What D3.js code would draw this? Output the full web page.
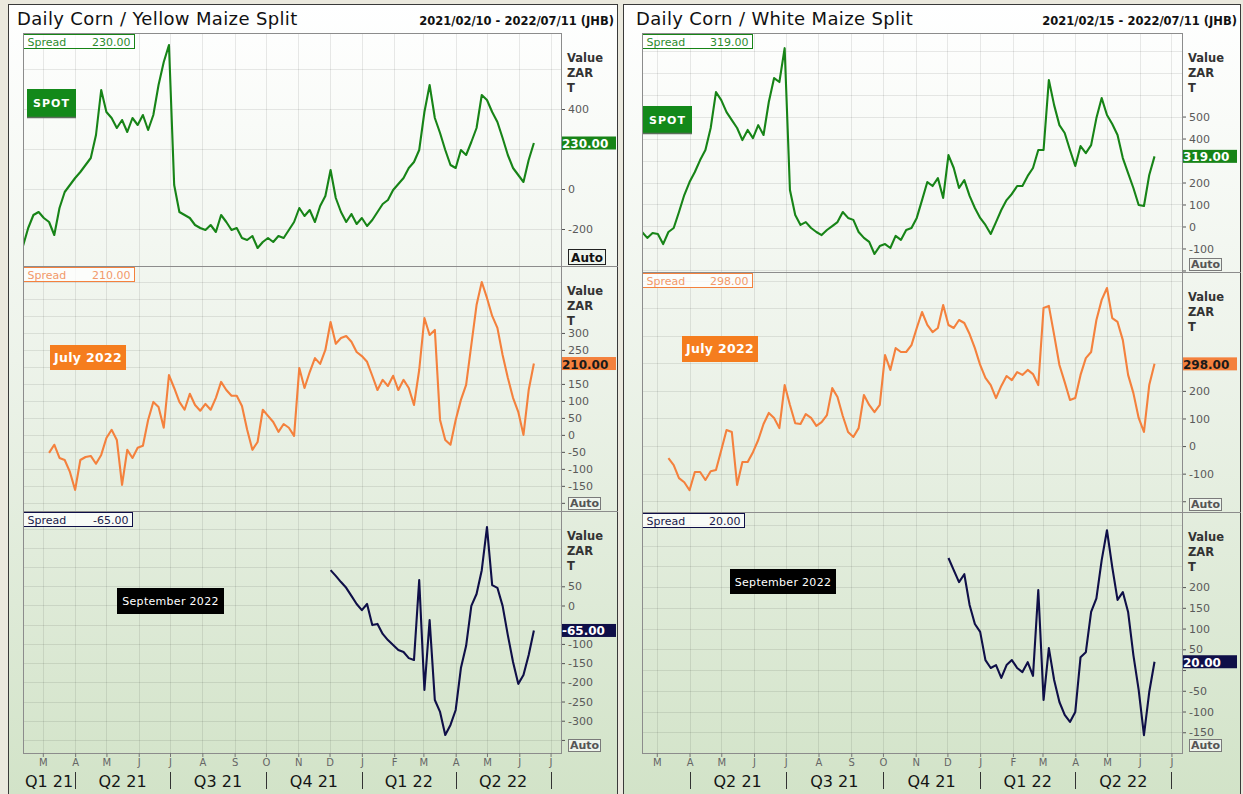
<!DOCTYPE html>
<html><head><meta charset="utf-8"><title>Daily Corn Maize Split</title>
<script src="https://cdn.jsdelivr.net/npm/d3@7/dist/d3.min.js"></script>
<style>
html,body{margin:0;padding:0;background:#ebe9de;}
svg{display:block;font-family:"DejaVu Sans",Verdana,sans-serif;}
</style></head><body>
<svg id="chart" width="1243" height="794"></svg>
<script>
// ---------------- DATA ----------------
const stepDays = 5; // one reading every 5 calendar days
const monthLetters = ["M","A","M","J","J","A","S","O","N","D","J","F","M","A","M","J","J"];
const quarterBounds = ["2021-01-01","2021-04-01","2021-07-01","2021-10-01","2022-01-01","2022-04-01","2022-07-01"];
const yellowQuarterLabels = ["Q1 21","Q2 21","Q3 21","Q4 21","Q1 22","Q2 22"];
const whiteQuarterLabels  = ["","Q2 21","Q3 21","Q4 21","Q1 22","Q2 22"];

// Yellow maize (left chart)
const yellowSpotStart = "2021-02-10";
const yellowSpotValues = [-285,-195,-130,-115,-145,-165,-230,-95,-15,20,55,85,120,155,270,495,385,355,305,345,
  285,355,320,370,295,370,520,635,720,20,-115,-130,-145,-180,-195,-205,-180,-215,-130,-165,
  -205,-195,-245,-255,-235,-295,-265,-245,-265,-235,-245,-205,-165,-95,-135,-105,-165,-85,-35,95,
  -45,-115,-165,-125,-175,-145,-185,-155,-115,-75,-55,-5,25,55,105,135,195,385,520,355,
  280,195,120,105,195,170,235,305,470,445,385,335,255,170,105,70,35,145,230];
const yellowJulyStart = "2021-03-07";
const yellowJulyValues = [-53,-29,-68,-74,-109,-162,-74,-65,-62,-85,-59,-9,15,-15,-147,-44,-68,-38,-32,44,
  97,82,21,176,138,97,74,121,88,71,91,74,109,156,132,115,115,85,15,-44,
  -21,74,56,38,9,32,21,-3,197,138,185,226,209,250,332,268,285,291,274,244,
  232,215,174,132,162,144,174,132,162,138,88,191,344,294,309,44,-15,-29,44,103,
  147,265,382,450,403,350,315,235,168,109,68,0,132,210];
const yellowSepStart = "2021-12-02";
const yellowSepValues = [92,77,61,46,25,4,-12,4,-51,-48,-74,-90,-103,-116,-121,-137,-142,66,-220,-38,
  -246,-277,-337,-311,-272,-163,-105,-1,30,92,204,53,46,-1,-77,-147,-204,-181,-129,-65];

// White maize (right chart)
const whiteSpotStart = "2021-02-15";
const whiteSpotValues = [-25,-52,-30,-34,-80,-25,-7,66,143,202,248,302,348,448,611,575,520,484,448,393,
  439,402,461,416,566,675,657,811,166,52,7,20,-7,-25,-39,-16,2,20,66,39,
  30,-25,-52,-70,-125,-89,-80,-98,-43,-61,-16,-7,39,120,202,184,220,130,325,266,
  175,211,139,84,39,7,-34,20,75,120,148,184,184,230,266,348,348,666,552,461,
  425,348,275,366,334,370,493,584,507,466,416,311,243,175,98,93,234,319];
const whiteJulyStart = "2021-03-12";
const whiteJulyValues = [-44,-69,-116,-131,-160,-94,-94,-123,-91,-87,-15,58,51,-141,-58,-58,-22,22,80,120,
  102,65,221,149,83,80,116,102,73,87,112,210,178,109,51,33,65,185,149,123,
  149,330,276,355,341,341,366,428,486,439,413,428,511,439,428,457,446,406,355,294,
  247,221,174,218,254,239,268,258,276,261,221,501,508,403,294,232,167,174,258,319,
  341,457,530,573,464,450,384,258,192,102,51,221,298];
const whiteSepStart = "2021-12-02";
const whiteSepValues = [270,241,212,231,157,111,92,24,5,12,-19,12,24,5,-5,19,-14,193,-72,53,
  -24,-77,-108,-125,-101,31,43,140,173,265,337,248,169,188,140,36,-48,-157,-53,20];

// axis tick values shown on the right of each pane
const yellowSpotTicks = [400,200,0,-200];
const yellowJulyTicks = [300,250,200,150,100,50,0,-50,-100,-150,-200];
const yellowSepTicks  = [50,0,-50,-100,-150,-200,-250,-300,-350];
const whiteSpotTicks  = [500,400,300,200,100,0,-100,-200];
const whiteJulyTicks  = [200,100,0,-100,-200];
const whiteSepTicks   = [200,150,100,50,0,-50,-100,-150];

// ---------------- STYLE / LAYOUT ----------------
const GREEN = "#178417", ORANGE = "#f4813d", NAVY = "#0f0f48";
const parse = d3.timeParse("%Y-%m-%d");
const svg = d3.select("#chart");
const defs = svg.append("defs");
const grad = defs.append("linearGradient").attr("id","bg").attr("gradientUnits","userSpaceOnUse")
  .attr("x1",0).attr("y1",4).attr("x2",0).attr("y2",794);
grad.append("stop").attr("offset",0).attr("stop-color","#ffffff");
grad.append("stop").attr("offset",0.45).attr("stop-color","#edf3ea");
grad.append("stop").attr("offset",1).attr("stop-color","#d2e3c8");

function mkSeries(start, values){
  const s = parse(start);
  return values.map((v,i)=>({date:d3.timeDay.offset(s, i*stepDays), v}));
}

const charts = [
  { id:"y", title:"Daily Corn / Yellow Maize Split", range:"2021/02/10 - 2022/07/11 (JHB)",
    domain:["2021-02-10","2022-07-11"], frame:[8,4,618], plot:[23,561], titleX:17,
    quarters:yellowQuarterLabels,
    panels:[
      {top:33,bottom:266,yd:[780,-385],step:200,ticks:yellowSpotTicks,data:mkSeries(yellowSpotStart,yellowSpotValues),
       color:GREEN,spreadText:"#2e8c2e",spreadW:111,name:"SPOT",nameBox:[27,89,49,28],nameFill:"#13891a",nameColor:"#fff",nameWeight:"bold",nameSize:11,
       tagText:"#fff",autoBig:true},
      {top:266,bottom:511,yd:[497,-224],step:50,ticks:yellowJulyTicks,data:mkSeries(yellowJulyStart,yellowJulyValues),
       color:ORANGE,spreadText:"#f2996a",spreadW:111,name:"July 2022",nameBox:[50,345,76,25],nameFill:"#f57d1e",nameColor:"#fff",nameWeight:"bold",nameSize:12.5,
       tagText:"#1a1a1a"},
      {top:511,bottom:753,yd:[246,-384],step:50,ticks:yellowSepTicks,data:mkSeries(yellowSepStart,yellowSepValues),
       color:NAVY,spreadText:"#1a1a4a",spreadW:109,name:"September 2022",nameBox:[117,588,107,26],nameFill:"#000",nameColor:"#fff",nameWeight:"normal",nameSize:11,
       tagText:"#fff"}
    ]},
  { id:"w", title:"Daily Corn / White Maize Split", range:"2021/02/15 - 2022/07/11 (JHB)",
    domain:["2021-02-15","2022-07-11"], frame:[623,4,1241], plot:[642,1182], titleX:636,
    quarters:whiteQuarterLabels,
    panels:[
      {top:33,bottom:272,yd:[880,-207],step:100,ticks:whiteSpotTicks,data:mkSeries(whiteSpotStart,whiteSpotValues),
       color:GREEN,spreadText:"#2e8c2e",spreadW:110,name:"SPOT",nameBox:[643,106,49,27],nameFill:"#13891a",nameColor:"#fff",nameWeight:"bold",nameSize:11,
       tagText:"#fff"},
      {top:272,bottom:512,yd:[631,-239],step:100,ticks:whiteJulyTicks,data:mkSeries(whiteJulyStart,whiteJulyValues),
       color:ORANGE,spreadText:"#f2996a",spreadW:110,name:"July 2022",nameBox:[682,336,76,26],nameFill:"#f57d1e",nameColor:"#fff",nameWeight:"bold",nameSize:12.5,
       tagText:"#1a1a1a"},
      {top:512,bottom:753,yd:[381,-200],step:50,ticks:whiteSepTicks,data:mkSeries(whiteSepStart,whiteSepValues),
       color:NAVY,spreadText:"#1a1a4a",spreadW:102,name:"September 2022",nameBox:[730,569,106,25],nameFill:"#000",nameColor:"#fff",nameWeight:"normal",nameSize:11,
       tagText:"#fff"}
    ]}
];

charts.forEach(ch=>{
  const [fx, fy, fr] = ch.frame;
  const [pl, pr] = ch.plot;
  const g = svg.append("g");
  g.append("rect").attr("x",fx+0.5).attr("y",fy+0.5).attr("width",fr-fx-1).attr("height",800)
    .attr("fill","url(#bg)").attr("stroke","#3a3a3a").attr("stroke-width",1);

  // title
  g.append("text").attr("x",ch.titleX).attr("y",25).attr("font-size",18).attr("letter-spacing","0.35px")
    .attr("fill","#111").text(ch.title);
  g.append("text").attr("x",fr-4).attr("y",25).attr("text-anchor","end").attr("font-size",11.5)
    .attr("font-weight","bold").attr("fill","#111").text(ch.range);

  const x = d3.scaleTime().domain([parse(ch.domain[0]), parse(ch.domain[1])]).range([pl, pr]);
  const months = d3.timeMonth.range(new Date(2021,2,1), new Date(2022,7,1)).filter(d=>x(d)>=pl && x(d)<=pr);
  const plotTop = ch.panels[0].top, plotBottom = ch.panels[ch.panels.length-1].bottom;

  ch.panels.forEach((p,pi)=>{
    const y = d3.scaleLinear().domain(p.yd).range([p.top, p.bottom]);
    const clipId = "clip-"+ch.id+pi;
    defs.append("clipPath").attr("id",clipId).append("rect")
      .attr("x",pl).attr("y",p.top).attr("width",pr-pl).attr("height",p.bottom-p.top);
    const pg = g.append("g");
    // grid
    const gv = d3.range(Math.ceil(p.yd[1]/p.step)*p.step, p.yd[0], p.step);
    pg.append("g").selectAll("line").data(gv).join("line")
      .attr("x1",pl).attr("x2",pr).attr("y1",d=>Math.round(y(d))+0.5).attr("y2",d=>Math.round(y(d))+0.5)
      .attr("stroke","#000").attr("stroke-opacity",0.085);
    pg.append("g").selectAll("line").data(months).join("line")
      .attr("x1",d=>Math.round(x(d))+0.5).attr("x2",d=>Math.round(x(d))+0.5).attr("y1",p.top).attr("y2",p.bottom)
      .attr("stroke","#000").attr("stroke-opacity",0.085);
    // separator
    if(pi>0){
      pg.append("line").attr("x1",pl).attr("x2",fr).attr("y1",p.top+0.5).attr("y2",p.top+0.5)
        .attr("stroke","#8c8c8c");
    }
    // line
    const line = d3.line().x(d=>x(d.date)).y(d=>y(d.v));
    pg.append("path").datum(p.data).attr("clip-path",`url(#${clipId})`)
      .attr("d",line).attr("fill","none").attr("stroke",p.color).attr("stroke-width",2.1)
      .attr("stroke-linejoin","round");
    const last = p.data[p.data.length-1].v;

    // spread box
    const sb = pg.append("g").attr("transform",`translate(${pl+0.5},${p.top+1.5})`);
    sb.append("rect").attr("width",p.spreadW).attr("height",14).attr("fill","#fff").attr("fill-opacity",0.75)
      .attr("stroke",p.color).attr("stroke-width",1);
    sb.append("text").attr("x",4).attr("y",11).attr("font-size",11).attr("fill",p.spreadText).text("Spread");
    sb.append("text").attr("x",p.spreadW-4).attr("y",11).attr("text-anchor","end").attr("font-size",11)
      .attr("fill",p.spreadText).text(last.toFixed(2));

    // name box
    const [nx,ny,nw,nh] = p.nameBox;
    pg.append("rect").attr("x",nx).attr("y",ny).attr("width",nw).attr("height",nh).attr("fill",p.nameFill);
    if(p.name==="SPOT"){
      pg.append("line").attr("x1",nx).attr("x2",nx+nw).attr("y1",ny+nh+0.5).attr("y2",ny+nh+0.5)
        .attr("stroke","#5c6e5c").attr("stroke-width",1.5);
    }
    pg.append("text").attr("x",nx+nw/2).attr("y",ny+nh/2+4).attr("text-anchor","middle")
      .attr("font-size",p.nameSize).attr("font-weight",p.nameWeight).attr("fill",p.nameColor)
      .attr("letter-spacing",p.name==="SPOT"?"1px":"0.3px").text(p.name);

    // value tag & Auto geometry
    const ty = y(last);
    const big = !!p.autoBig;
    const aw = big?37:32, ah = big?15:12;
    const axp = pr+7, ayp = p.bottom-ah-2;

    // axis (labels hidden where the value tag or the Auto button covers them)
    const ax = pg.append("g").attr("transform",`translate(${pr},0)`)
      .call(d3.axisRight(y).tickValues(p.ticks).tickSize(4).tickPadding(3).tickFormat(d=>String(d)));
    ax.select(".domain").remove();
    ax.selectAll(".tick line").attr("stroke","#555");
    ax.selectAll(".tick text").attr("fill","#5a5a5a").attr("font-size",11).attr("font-family","DejaVu Sans, sans-serif")
      .filter(d=>Math.abs(y(d)-ty)<11 || y(d)>ayp-6).remove();
    ["Value","ZAR","T"].forEach((t,k)=>{
      pg.append("text").attr("x",pr+6).attr("y",p.top+29+k*15).attr("font-size",11.5).attr("font-weight","bold")
        .attr("fill","#333").text(t);
    });
    pg.append("rect").attr("x",pr).attr("y",ty-6.5).attr("width",55).attr("height",13).attr("fill",p.color);
    pg.append("text").attr("x",pr+1).attr("y",ty+5).attr("font-size",12).attr("font-weight","bold")
      .attr("fill",p.tagText).text(last.toFixed(2));
    pg.append("rect").attr("x",axp+0.5).attr("y",ayp+0.5).attr("width",aw).attr("height",ah)
      .attr("fill","#eef4ec").attr("stroke",big?"#222":"#7a7a7a");
    pg.append("text").attr("x",axp+aw/2+0.5).attr("y",ayp+ah-2.5).attr("text-anchor","middle")
      .attr("font-size",big?12:11).attr("font-weight","bold").attr("fill",big?"#111":"#555").text("Auto");
  });

  // plot border
  g.append("rect").attr("x",pl+0.5).attr("y",plotTop+0.5).attr("width",pr-pl).attr("height",plotBottom-plotTop)
    .attr("fill","none").attr("stroke","#8c8c8c");

  // month axis
  const xa = g.append("g").attr("transform",`translate(0,${plotBottom})`)
    .call(d3.axisBottom(x).tickValues(months).tickSize(4).tickPadding(2).tickFormat((d,i)=>monthLetters[i]));
  xa.select(".domain").remove();
  xa.selectAll(".tick line").attr("stroke","#777");
  xa.selectAll(".tick text").attr("fill","#666").attr("font-size",10).attr("font-family","DejaVu Sans, sans-serif");

  // quarter labels
  const qb = quarterBounds.map(parse);
  ch.quarters.forEach((q,i)=>{
    const a = Math.max(x(qb[i]), pl), b = x(qb[i+1]);
    if(q) g.append("text").attr("x",(a+b)/2).attr("y",787).attr("text-anchor","middle")
      .attr("font-size",16).attr("fill","#151515").text(q);
  });
  g.append("g").selectAll("line").data(qb.slice(1)).join("line")
    .attr("x1",d=>Math.round(x(d))+0.5).attr("x2",d=>Math.round(x(d))+0.5).attr("y1",772).attr("y2",789)
    .attr("stroke","#333");
});
</script>
</body></html>
